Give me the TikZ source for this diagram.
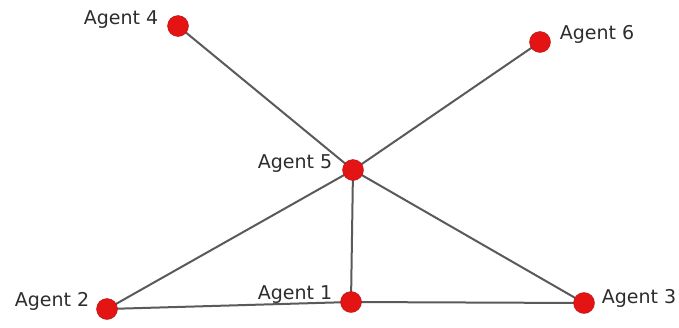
\documentclass[tikz,border=0pt]{standalone}
\usepackage{fontspec}
\setmainfont{DejaVu Sans}
\definecolor{dotred}{RGB}{228,20,20}
\definecolor{edgegray}{RGB}{90,90,90}
\definecolor{labgray}{RGB}{45,45,45}
\begin{document}
\begin{tikzpicture}[x=1pt,y=-1pt,
  agent/.style={circle,fill=dotred,draw=dotred!80!black,line width=0.4pt,minimum size=21pt,inner sep=0pt},
  lab/.style={text=labgray,font=\fontsize{19}{21}\selectfont,inner sep=0pt},
  edge/.style={draw=edgegray,line width=2pt}]
\useasboundingbox (0,0) rectangle (679,327);
\fill[white] (0,0) rectangle (679,327);
\coordinate (p4) at (178,26);
\coordinate (p6) at (540,42);
\coordinate (p5) at (353,170);
\coordinate (p2) at (107,309);
\coordinate (p1) at (351,302);
\coordinate (p3) at (584,303);
\draw[edge] (p4) -- (p5);
\draw[edge] (p5) -- (p6);
\draw[edge] (p5) -- (p2);
\draw[edge] (p5) -- (p1);
\draw[edge] (p5) -- (p3);
\draw[edge] (p2) -- (p1);
\draw[edge] (p1) -- (p3);
\node[agent] (a4) at (p4) {};
\node[agent] (a6) at (p6) {};
\node[agent] (a5) at (p5) {};
\node[agent] (a2) at (p2) {};
\node[agent] (a1) at (p1) {};
\node[agent] (a3) at (p3) {};
\node[lab] (l4) at (121,20) {Agent 4};
\node[lab] (l6) at (597,34) {Agent 6};
\node[lab] (l5) at (295,164) {Agent 5};
\node[lab] (l2) at (52,301) {Agent 2};
\node[lab] (l1) at (295,295) {Agent 1};
\node[lab] (l3) at (639,298) {Agent 3};
\end{tikzpicture}
\end{document}
